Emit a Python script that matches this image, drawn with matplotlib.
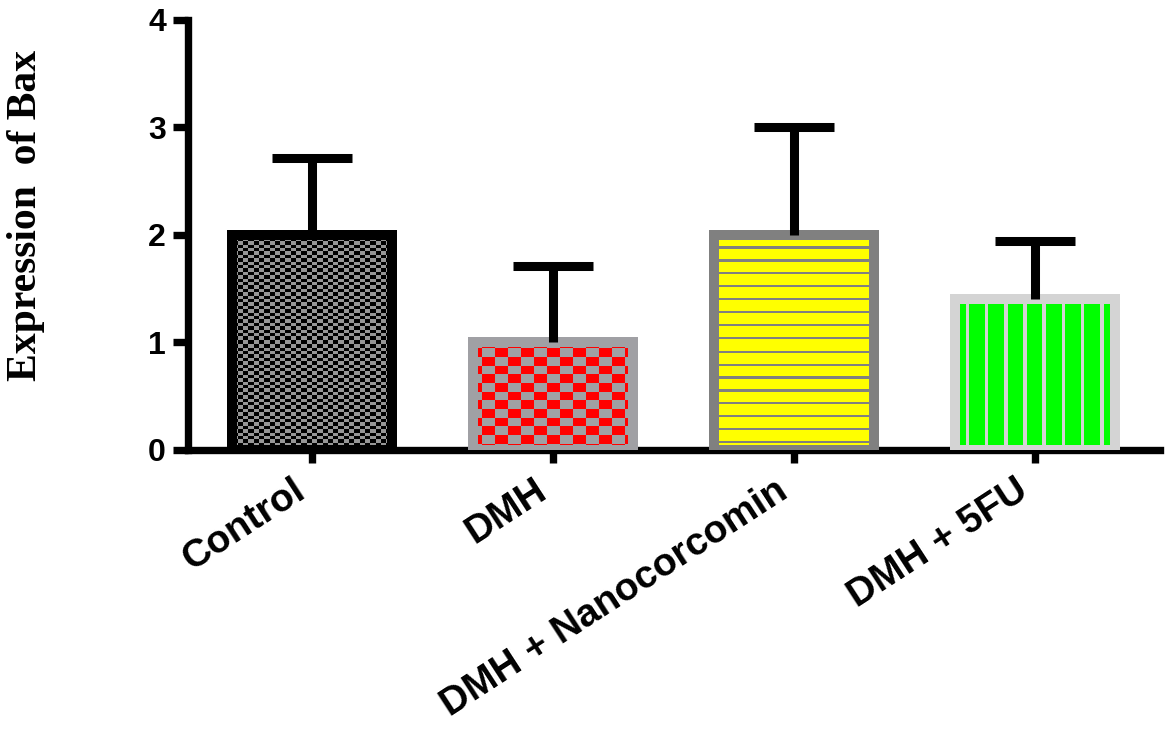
import numpy as np
import matplotlib.pyplot as plt
from matplotlib.colors import to_rgb

# data
groups = ['Control', 'DMH', 'DMH + Nanocorcomin', 'DMH + 5FU']
means = [2.0, 1.0, 2.0, 1.4]
sds = [0.71, 0.71, 1.0, 0.54]

edge_colors = ['#000000', '#a0a0a4', '#808080', '#d4d4d4']
fill_pairs = [('#000000', '#969696'), ('#a0a0a4', '#ff0000'),
              ('#ffff00', '#808080'), ('#00ff00', '#d4d4d4')]
patterns = ['fine_checker', 'checker', 'hlines', 'vlines']

plt.rcParams['font.family'] = ['Liberation Sans', 'DejaVu Sans']
plt.rcParams['font.weight'] = 'bold'


def make_pattern(kind, h, w, c1, c2):
    yy, xx = np.mgrid[0:h, 0:w]
    if kind == 'fine_checker':
        mask = (np.floor(xx / 5.3) + np.floor(yy / 3.4)) % 2 == 1
    elif kind == 'checker':
        mask = (np.floor((xx + 4) / 13.0) + np.floor((yy + 3) / 8.7)) % 2 == 1
    elif kind == 'hlines':
        mask = ((yy + 1) % 12.9) < 2.2
    else:
        mask = ((xx + 9) % 19.2) < 3.6
    img = np.empty((h, w, 3))
    img[:] = to_rgb(c1)
    img[mask] = to_rgb(c2)
    return img


fig = plt.figure(figsize=(11.67, 7.29), dpi=100)
ax = fig.add_axes([0.161, 0.383, 0.833, 0.590])

x = np.arange(len(groups))
ax.set_xlim(-0.515, 3.52)
ax.set_ylim(0, 4)

bar_w = 0.664
bars = ax.bar(x, means, width=bar_w, color='white', edgecolor='none', zorder=2)

for bar, kind, (c1, c2) in zip(bars, patterns, fill_pairs):
    x0, w, h = bar.get_x(), bar.get_width(), bar.get_height()
    p0 = ax.transData.transform((x0, 0))
    p1 = ax.transData.transform((x0 + w, h))
    wpx = int(round(p1[0] - p0[0]))
    hpx = int(round(p1[1] - p0[1]))
    img = make_pattern(kind, hpx, wpx, c1, c2)
    im = ax.imshow(img, extent=(x0, x0 + w, 0, h), origin='upper',
                   aspect='auto', interpolation='nearest', zorder=3)
    im.set_clip_path(bar)

ax.bar(x, means, width=bar_w, fill=False, edgecolor=edge_colors,
       linewidth=7.2, zorder=4)

tops = np.array(means) + np.array(sds)
ax.vlines(x, means, tops, colors='black', linewidth=6.5, zorder=5)
ax.hlines(tops, x - 0.166, x + 0.166, colors='black', linewidth=6.5, zorder=5)

ax.set_xlim(-0.515, 3.52)
ax.set_ylim(0, 4)

for side in ['top', 'right']:
    ax.spines[side].set_visible(False)
for side in ['left', 'bottom']:
    ax.spines[side].set_linewidth(5.3)
    ax.spines[side].set_capstyle('projecting')

ax.set_yticks([0, 1, 2, 3, 4])
ax.tick_params(axis='y', direction='out', length=10.8, width=5.3, pad=5,
               labelsize=23)
ax.tick_params(axis='x', direction='out', length=9.4, width=5.3, pad=7)
ax.set_xticks(x)
ax.set_xticklabels(groups, rotation=33, ha='right', va='top', fontsize=28,
                   fontweight='bold')

fig.text(0.022, 1 - 215 / 729, 'Expression  of Bax', rotation=90,
         ha='center', va='center', fontsize=30, fontweight='bold',
         family=['Liberation Serif', 'DejaVu Serif'])

fig.savefig('out.png', dpi=100)
